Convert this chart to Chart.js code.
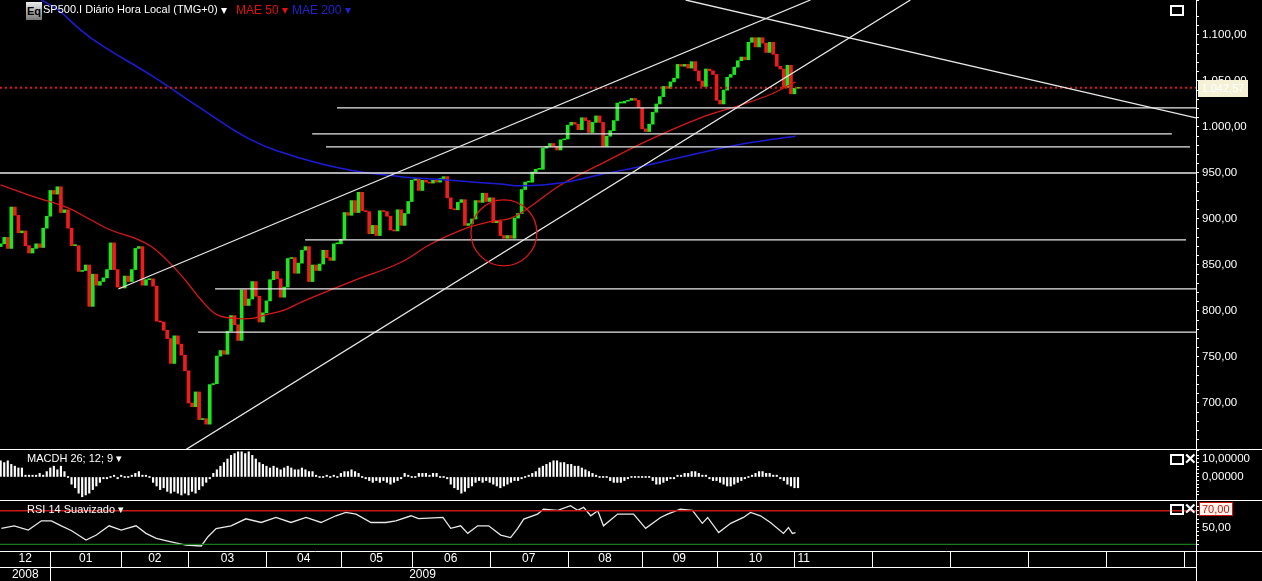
<!DOCTYPE html>
<html>
<head>
<meta charset="utf-8">
<title>SP500.I Diário</title>
<script src="https://cdn.jsdelivr.net/npm/chart.js@4.4.0/dist/chart.umd.min.js"></script>
<style>
  body { margin: 0; background: #000; font-family: "Liberation Sans", Arial, sans-serif; overflow: hidden; }
  #wrap { position: relative; width: 1262px; height: 581px; background: #000; }
  canvas { position: absolute; left: 0; }
  .lbl { position: absolute; color: #fff; font-size: 12px; white-space: nowrap; }
  .hr { position: absolute; left: 0; width: 1262px; height: 1px; background: #fff; }
  .box { position: absolute; width: 10px; height: 7px; border: 2px solid #fff; }
  .x { position: absolute; color: #fff; font-size: 15px; font-weight: bold; line-height: 14px; }
</style>
</head>
<body>
<div id="wrap">
  <canvas id="main" width="1262" height="449" style="top:0"></canvas>
  <canvas id="macd" width="1262" height="50" style="top:450px"></canvas>
  <canvas id="rsi" width="1262" height="81" style="top:500px"></canvas>
  <div class="hr" style="top:449px"></div>
  <div class="hr" style="top:500px"></div>

  <div style="position:absolute;left:26px;top:2px;width:16px;height:18px;background:linear-gradient(#eee,#777);color:#000;font-size:11px;font-weight:bold;line-height:18px;text-align:center">Eq</div>
  <div class="lbl" style="left:43px;top:3px;font-size:11px">SP500.I Diário Hora Local (TMG+0)</div>
  <div class="lbl" style="left:221px;top:3px">▾</div>
  <div class="lbl" style="left:236px;top:3px;color:#e01010">MAE 50 ▾</div>
  <div class="lbl" style="left:292px;top:3px;color:#2222cc">MAE 200 ▾</div>
  <div class="box" style="left:1170px;top:5px"></div>

  <div class="lbl" style="left:27px;top:452px;font-size:11px">MACDH 26; 12; 9 ▾</div>
  <div class="box" style="left:1170px;top:454px"></div>
  <div class="x" style="left:1184px;top:452px">✕</div>

  <div class="lbl" style="left:27px;top:503px;font-size:11px">RSI 14 Suavizado ▾</div>
  <div class="box" style="left:1170px;top:504px"></div>
  <div class="x" style="left:1184px;top:502px">✕</div>
  <div class="lbl" style="left:1199px;top:502px;font-size:11px;color:#d01010;background:#fff6ee;border:1px solid #d01010;padding:0 2px">70,00</div>

  <div class="lbl" style="left:1198px;top:80px;width:50px;height:17px;background:#f4f1d6;color:#fff;font-size:11px;line-height:17px;text-align:center">1.042,57</div>
</div>
<script>
// closes per trading day, 11 Dec 2008 .. 3 Nov 2009
const closes = [
  873, 880, 868, 913, 904, 885, 887, 871, 863, 868, 873, 869, 890, 903,
  931, 927, 935, 907, 910, 890, 871, 871, 843, 844, 850, 805, 840, 828, 832, 836, 845, 874, 845, 826,
  825, 838, 832, 845, 868, 870, 828, 834, 835, 827, 789, 788, 779, 770, 743, 773, 764, 752, 735,
  700, 696, 712, 682, 683, 677, 720, 721, 751, 757, 753, 778, 795, 785, 768, 823, 806, 813, 832, 816, 788, 798,
  811, 834, 843, 835, 815, 826, 857, 858, 841, 852, 866, 870, 832, 850, 844, 851, 866, 858, 855, 873, 873,
  878, 907, 904, 920, 907, 929, 909, 908, 884, 893, 882, 909, 908, 903, 888, 887, 910, 893, 906, 919,
  942, 944, 931, 942, 940, 939, 942, 940, 944, 946, 923, 911, 910, 918, 921, 893, 895, 900, 920, 918, 928, 919,
  923, 896, 898, 882, 879, 882, 879, 901, 906, 932, 940, 940, 951, 954, 954, 977, 979, 982, 979, 975, 986, 987,
  1002, 1005, 1003, 997, 1010, 1007, 994, 1005, 1012, 1005, 979, 990, 996, 1007, 1026, 1026, 1028, 1029, 1031, 1029, 1021,
  998, 995, 1003, 1016, 1025, 1033, 1044, 1042, 1049, 1053, 1068, 1066, 1068, 1064, 1071, 1061, 1050, 1044, 1063, 1061, 1057,
  1029, 1025, 1040, 1054, 1057, 1065, 1072, 1076, 1073, 1092, 1097, 1087, 1097, 1091, 1081, 1092, 1079, 1066, 1063, 1043, 1067, 1036,
  1042, 1042.57
];
const firstOpen = 870;
const lastPrice = 1042.57;

// [bar index, value]
const mae50 = [[0,937],[9.5,924],[19,912],[25,900],[31,888],[38,879],[42.5,870],[47,855],[52,834],[56.6,812],[61,796],[66,792],
  [71,792],[75,796],[80,801],[85,810],[99,832],[113,853],[121,872],[130,888],[138,897],[144,901],[150,915],[158,937],[169,959],
  [183,986],[197.5,1010],[209,1024],[217,1035],[224.3,1049]];
const mae200 = [[11.5,1138],[16.3,1127],[22.7,1105],[28.4,1089],[42.5,1056],[56.6,1020],[70.7,986],[84.7,966],[98.8,953],
  [113,946],[127,942],[141,938],[147,936],[158,939],[169,948],[183,959],[197.5,972],[211.6,983],[224.3,990]];

const macdH = [
  9,8,9,7,6,5,5, 1,1,1,1,2,1, 3,5,6,4,6,3, 0,
  -4,-6,-9,-11,-10,-9,-7,-5,-3,-1,-1,0, 1,-1,1,0,0, 1,2,3,1,1,0,
  -3,-5,-7,-6,-8,-9,-8,-9,-10,-9,-10,-8,-9,-7,-5,-3,-1,
  2,4,6,8,10,12,13,14,14,13,14,12,10,
  8,7,6,5,6,5,4,5,6,5,4,4,5,4,3,3, 1,0,0,1,0,1,0,
  2,3,3,4,3,2,0,-1,-2,-3,-2, -3,-2,-3,-4,-3,-2,-1, 2,1,0,0, 2,2,2,1,2,2, 0,0,-1,
  -4,-6,-7,-9,-8,-6,-5,-3,-2,-3,-2,-3,-4,-5,-6,-5,-4,-3,-2,-2,-1,0,
  1,2,3,5,6,7,8,9,9,8,8,7,7,6,6,5,4,3,2,1, 0,0,0,
  -2,-3,-3,-3,-2,-1, 0,0,0,0,0,0, -2,-4,-4,-3,-2,-1,-1,
  1,1,2,2,3,3,2,1,1, -1,-2,-2,-3,-4,-5,-5,-4,-3,-2,-1,
  0,1,2,3,3,2,2,1,1, -1,-2,-4,-5,-6,-6
];

// [bar index, value]
const rsi14 = [[0.2,49],[3.8,52],[7.8,47],[11.5,58],[14.3,58],[17.1,52],[19.9,46.5],[24.1,35],[27,41],[30.6,52],[34,47],
  [38.2,52],[41,43],[43.9,37],[48.1,33],[52.3,29],[56.6,28],[58.5,39],[60.8,48.8],[65,52],[69.2,60.4],[73.5,56],[77.7,62],
  [81.9,56],[86.2,62],[90.4,56],[94.6,64],[97.4,68],[100.3,66],[104.5,56],[108.7,56],[111.5,58],[115.8,64],[117.9,60.5],
  [124.8,62],[127,49],[129.8,52],[131.8,43],[134.6,52],[137.7,52],[141.1,41],[143.9,38],[145.9,49],[147.6,60],[151.5,66],
  [153.2,72],[157.2,70.5],[160.8,76],[162.8,70.5],[164.5,74],[166.5,64],[168.5,70],[170.1,52],[174.1,66],[178.6,66],
  [182,49],[186.2,62],[188.2,66],[191.8,72],[195.2,70.5],[198,55],[199.5,62],[202.6,44],[206,55],[209.6,62],[211.6,68],
  [214.4,64],[217.2,56],[220.9,43],[222.3,50],[223.4,43],[224.3,44]];

const monthStarts = [14, 34, 53, 75, 96, 116, 138, 160, 181, 202, 224, 246, 268, 290, 312, 334];
const monthLabels = ['01', '02', '03', '04', '05', '06', '07', '08', '09', '10', '11'];
const firstMonth = '12';
const years = ['2008', '2009'];

// horizontal supports: [value, from index, to index]
const levels = [[1020.7,94.9,338],[992.4,87.9,330.5],[978.3,91.8,335.6],[950,-1,338],[877.2,85.9,334.5],[824,60.5,338],[777,55.7,338]];
// trend lines: [i1, v1, i2, v2]
const trends = [[33.2,823.9,228.5,1138],[52.1,649,256.7,1138],[193.3,1138,337.3,1009.8]];
const circle = [142, 885, 33];

const X_MIN = -0.19, X_MAX = 337.3;
const FONT = { family: 'Liberation Sans, Arial, sans-serif', size: 11.5 };

function fmt(v, d) {
  const s = v.toFixed(d).split('.');
  return s[0].replace(/\B(?=(\d{3})+(?!\d))/g, '.') + ',' + s[1];
}

function rightAxis(min, max, step, labelFn) {
  return {
    position: 'right', min: min, max: max,
    afterFit: s => { s.width = 66; s.paddingTop = 0; s.paddingBottom = 0; },
    border: { color: '#fff', width: 1 },
    grid: { drawOnChartArea: false, color: '#fff', tickLength: 3 },
    ticks: { stepSize: step, autoSkip: false, maxTicksLimit: 200, color: '#fff', font: FONT, padding: 3, callback: labelFn }
  };
}
const xAxis = { type: 'linear', min: X_MIN, max: X_MAX, display: false, offset: false };

const candles = closes.map((c, i) => ({ x: i, y: [i ? closes[i - 1] : firstOpen, c] }));
const candleColors = candles.map(d => d.y[1] >= d.y[0] ? '#1ee61e' : '#ee1c1c');

const datasets = [];
levels.forEach(l => datasets.push({ type: 'line', data: [{x: l[1], y: l[0]}, {x: l[2], y: l[0]}], borderColor: '#e8e8e8', borderWidth: 1.3, pointRadius: 0 }));
trends.forEach(t => datasets.push({ type: 'line', data: [{x: t[0], y: t[1]}, {x: t[2], y: t[3]}], borderColor: '#e8e8e8', borderWidth: 1.3, pointRadius: 0 }));
datasets.push({ type: 'line', data: [{x: X_MIN, y: lastPrice}, {x: X_MAX, y: lastPrice}], borderColor: '#e01818', borderWidth: 2, borderDash: [2, 3], pointRadius: 0 });
datasets.push({ type: 'line', data: mae200.map(p => ({x: p[0], y: p[1]})), borderColor: '#1c1cd8', borderWidth: 1.5, pointRadius: 0, tension: 0.4 });
datasets.push({ type: 'line', data: mae50.map(p => ({x: p[0], y: p[1]})), borderColor: '#d81818', borderWidth: 1.3, pointRadius: 0, tension: 0.4 });
datasets.push({ type: 'bar', data: candles, backgroundColor: candleColors, barThickness: 3, minBarLength: 1 });

const circlePlugin = {
  id: 'circle',
  afterDatasetsDraw(chart) {
    const ctx = chart.ctx;
    ctx.save();
    ctx.strokeStyle = '#e01818'; ctx.lineWidth = 1.3;
    ctx.beginPath();
    ctx.arc(chart.scales.x.getPixelForValue(circle[0]), chart.scales.y.getPixelForValue(circle[1]), circle[2], 0, Math.PI * 2);
    ctx.stroke();
    ctx.restore();
  }
};

const common = { responsive: false, animation: false, events: [], layout: { padding: 0 },
  plugins: { legend: { display: false }, tooltip: { enabled: false } } };

new Chart(document.getElementById('main'), {
  type: 'bar',
  data: { datasets: datasets },
  options: Object.assign({}, common, {
    scales: { x: xAxis, y: rightAxis(650, 1138, 10, v => (v % 50 === 0 && v >= 700 && v <= 1100) ? fmt(v, 2) : '') }
  }),
  plugins: [circlePlugin]
});

new Chart(document.getElementById('macd'), {
  type: 'bar',
  data: { datasets: [{ data: macdH.map((v, i) => ({x: i, y: v})), backgroundColor: '#fff', barThickness: 1.5, minBarLength: 1 }] },
  options: Object.assign({}, common, {
    scales: { x: xAxis, y: rightAxis(-12.8, 15, 2, v => (v === 10 || v === 0) ? fmt(v, 5) : '') }
  })
});

const timeAxis = {
  id: 'timeAxis',
  afterDraw(chart) {
    const ctx = chart.ctx, xs = chart.scales.x;
    const top = chart.chartArea.bottom, mid = top + 16, bot = chart.height;
    const axisX = chart.chartArea.right;
    ctx.save();
    ctx.strokeStyle = '#fff'; ctx.lineWidth = 1;
    ctx.beginPath();
    ctx.moveTo(0, top + 0.5); ctx.lineTo(chart.width, top + 0.5);
    ctx.moveTo(0, mid + 0.5); ctx.lineTo(axisX, mid + 0.5);
    ctx.moveTo(axisX + 0.5, top); ctx.lineTo(axisX + 0.5, bot);
    monthStarts.forEach(m => {
      const px = Math.round(xs.getPixelForValue(m)) + 0.5;
      if (px < axisX) { ctx.moveTo(px, top); ctx.lineTo(px, mid); }
    });
    const yb = Math.round(xs.getPixelForValue(monthStarts[0])) + 0.5;
    ctx.moveTo(yb, mid); ctx.lineTo(yb, bot);
    ctx.stroke();
    ctx.fillStyle = '#fff';
    ctx.font = '12px Liberation Sans, Arial, sans-serif';
    ctx.textBaseline = 'middle'; ctx.textAlign = 'center';
    ctx.fillText(firstMonth, xs.getPixelForValue(monthStarts[0]) / 2, top + 8);
    monthLabels.forEach((l, k) => {
      const a = xs.getPixelForValue(monthStarts[k]), b = xs.getPixelForValue(monthStarts[k + 1]);
      if (k === monthLabels.length - 1) { ctx.textAlign = 'left'; ctx.fillText(l, a + 3, top + 8); }
      else ctx.fillText(l, (a + b) / 2, top + 8);
    });
    ctx.textAlign = 'center';
    ctx.fillText(years[0], yb / 2, mid + 8);
    ctx.fillText(years[1], (yb + xs.getPixelForValue(224)) / 2, mid + 8);
    ctx.restore();
  }
};

new Chart(document.getElementById('rsi'), {
  type: 'line',
  data: { datasets: [
    { data: [{x: X_MIN, y: 70}, {x: X_MAX, y: 70}], borderColor: '#c81818', borderWidth: 1.5, pointRadius: 0 },
    { data: [{x: X_MIN, y: 30}, {x: X_MAX, y: 30}], borderColor: '#1c7a1c', borderWidth: 1.3, pointRadius: 0 },
    { data: rsi14.map(p => ({x: p[0], y: p[1]})), borderColor: '#e8e8e8', borderWidth: 1.3, pointRadius: 0 }
  ] },
  options: Object.assign({}, common, {
    layout: { padding: { bottom: 30 } },
    scales: { x: xAxis, y: rightAxis(22, 82.8, 5, v => v === 50 ? fmt(v, 2) : '') }
  }),
  plugins: [timeAxis]
});
</script>
</body>
</html>
